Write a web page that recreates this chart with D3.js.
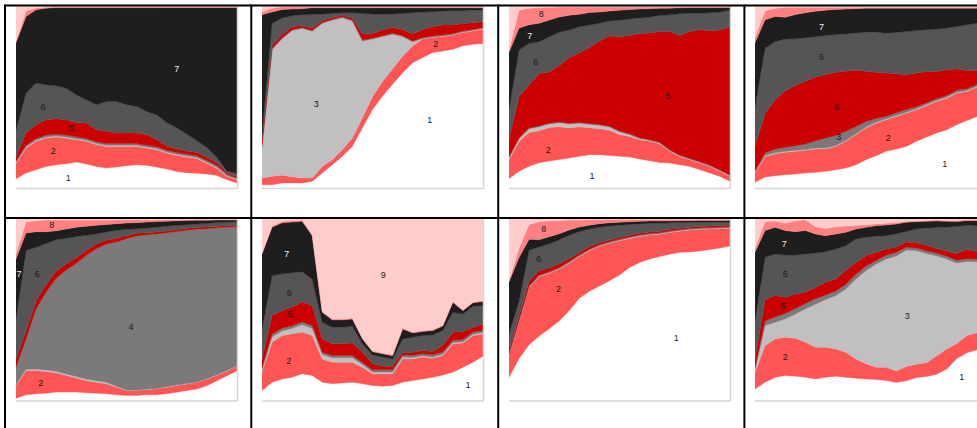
<!DOCTYPE html>
<html><head><meta charset="utf-8">
<script src="https://cdn.jsdelivr.net/npm/d3@7"></script>
<style>html,body{margin:0;padding:0;background:#fff;overflow:hidden}svg{display:block}</style>
</head><body>
<script>
// ---- data ----
const layerKeys = ["1","2","3","4","5","6","7","8","9"];
const layerColors = ["#ffffff","#ff5555","#c0c0c0","#7a7a7a","#cc0000","#555555","#1e1e1e","#ff8080","#ffcccc"];
const xSteps = d3.range(23); // sample index along the x axis

// each row = one layer (1..9) (share, %)
const panel1 = [
 [5.1,8.3,10.1,11.9,12.8,13.4,14.3,13.2,11.9,11.0,11.6,12.3,12.8,12.5,11.6,10.5,9.2,8.6,8.3,7.9,7.0,4.6,2.8],
 [8.7,13.7,15.6,15.6,15.3,14.1,12.3,12.5,12.0,11.9,11.3,10.6,10.1,9.5,9.5,8.8,9.1,8.8,8.2,5.9,4.0,1.8,1.8],
 [0.5,0.6,0.6,0.6,0.6,0.6,0.6,0.6,0.6,0.6,0.6,0.6,0.6,0.6,0.6,0.6,0.6,0.6,0.6,0.6,0.6,0.5,0.4],
 [0.8,1.0,1.0,1.0,1.0,1.0,1.0,1.0,1.0,1.0,1.0,1.0,1.0,1.0,1.0,1.0,1.0,1.0,1.0,1.0,1.0,0.8,0.6],
 [2.0,6.7,7.6,8.5,8.5,8.5,7.9,8.5,6.6,6.7,5.8,5.8,5.8,5.8,3.9,2.4,2.0,1.8,1.8,1.8,1.6,0.8,0.8],
 [15.2,22.0,22.9,19.3,18.1,17.4,15.3,12.8,13.8,16.5,17.4,15.6,14.7,12.8,13.8,12.9,11.9,9.5,6.5,5.5,2.8,1.0,1.8],
 [48.6,42.2,40.4,42.2,43.1,44.4,48.0,50.8,53.5,51.7,51.7,53.5,54.4,57.2,59.0,63.6,67.3,71.0,74.6,78.3,83.8,91.1,92.1],
 [1.0,3.0,1.0,0.5,0.3,0.3,0.3,0.3,0.3,0.3,0.3,0.3,0.3,0.3,0.3,0.3,0.3,0.3,0.3,0.3,0.3,0.3,0.3],
 [19.2,2.5,0.8,0.4,0.3,0.3,0.3,0.3,0.3,0.3,0.3,0.3,0.3,0.3,0.3,0.3,0.3,0.3,0.3,0.3,0.3,0.3,0.3]
];
const panel2 = [
 [1.8,1.8,2.8,2.8,2.8,3.7,8.3,12.8,17.4,22.9,33.0,43.1,50.5,56.9,63.3,68.8,71.6,74.3,75.2,76.1,78.0,78.9,79.3],
 [3.7,4.6,4.2,3.3,2.7,1.8,3.6,2.8,3.7,4.5,5.5,7.0,8.0,8.5,9.0,9.2,10.1,8.3,7.9,7.8,7.3,7.3,7.9],
 [17.4,69.7,74.7,80.1,82.0,80.2,78.6,76.7,72.5,64.3,42.2,31.6,24.6,19.0,10.8,2.2,0.3,0.3,0.3,0.3,0.3,0.3,0.3],
 [0.5,0.5,0.5,0.5,0.5,0.5,0.5,0.5,0.5,0.5,0.5,0.5,0.5,0.5,0.5,0.5,0.5,0.5,0.5,0.5,0.5,0.5,0.5],
 [3.6,1.8,1.7,1.8,1.0,1.4,1.0,1.0,1.0,1.0,3.3,2.6,3.1,3.2,3.4,3.8,4.5,5.1,5.5,4.7,4.2,3.7,3.2],
 [2.8,11.9,9.2,5.9,6.0,7.3,3.7,2.2,1.3,3.1,11.3,10.7,8.8,7.4,8.8,11.7,9.6,8.2,7.7,7.9,7.0,7.0,6.5],
 [66.0,6.4,4.6,3.6,3.3,3.7,3.4,3.1,2.7,2.7,3.1,3.4,3.4,3.4,3.1,2.7,2.3,2.2,1.8,1.6,1.6,1.2,1.2],
 [1.5,2.0,1.5,1.2,1.0,0.5,0.5,0.5,0.5,0.5,0.5,0.5,0.5,0.5,0.5,0.5,0.5,0.5,0.5,0.5,0.5,0.5,0.5],
 [3.0,1.0,0.2,0.2,0.2,0.2,0.2,0.2,0.2,0.2,0.2,0.2,0.2,0.2,0.2,0.2,0.2,0.2,0.2,0.2,0.2,0.2,0.2]
];
const panel3 = [
 [5.1,9.2,11.9,13.8,14.7,15.6,16.5,17.4,18.3,18.3,17.8,17.4,17.1,16.0,15.0,14.1,13.8,12.8,11.9,10.1,8.3,6.4,3.7],
 [10.5,16.5,18.4,17.4,18.3,18.0,16.5,16.2,14.7,14.2,13.9,12.0,11.3,10.6,10.7,10.3,6.4,4.6,3.7,3.7,3.6,2.8,2.7],
 [1.0,1.5,2.0,2.2,2.0,2.2,2.2,2.0,2.0,2.0,1.8,1.5,1.0,0.6,0.5,0.4,0.4,0.3,0.3,0.3,0.3,0.3,0.3],
 [0.4,0.4,0.4,0.4,0.4,0.4,0.4,0.4,0.4,0.4,0.4,0.4,0.4,0.4,0.4,0.4,0.4,0.4,0.4,0.4,0.4,0.4,0.4],
 [9.6,22.9,23.3,28.6,27.9,30.8,36.0,38.3,41.7,45.8,49.6,51.8,54.1,57.4,58.7,61.0,65.2,65.8,69.9,72.7,74.2,77.3,81.9],
 [16.5,25.6,22.9,17.4,19.3,18.3,15.2,14.3,12.3,9.8,8.2,9.2,9.1,8.6,8.8,8.7,9.2,12.1,10.1,9.1,9.9,9.9,9.2],
 [31.2,12.0,10.1,10.1,9.1,8.3,8.1,6.8,6.9,6.2,5.5,5.5,5.2,4.9,4.6,4.0,3.7,3.3,3.1,3.1,2.9,2.5,1.4],
 [1.0,10.0,9.0,8.5,7.0,5.5,4.5,4.0,3.0,2.7,2.2,1.7,1.4,1.1,0.9,0.7,0.6,0.5,0.4,0.4,0.4,0.4,0.4],
 [24.0,1.9,1.0,0.6,0.4,0.3,0.3,0.3,0.3,0.3,0.3,0.3,0.3,0.3,0.3,0.3,0.3,0.2,0.2,0.2,0.2,0.2,0.2]
];
const panel4 = [
 [3.1,6.1,6.8,7.3,7.7,8.3,8.6,9.2,10.1,11.0,12.8,15.6,17.8,20.2,21.5,22.9,25.7,28.1,30.3,32.1,34.9,37.2,39.4],
 [5.2,11.3,12.1,12.3,12.5,12.4,12.9,12.3,12.8,14.7,16.6,17.4,18.0,17.4,17.9,18.4,17.4,17.4,17.4,17.4,17.4,16.0,16.2],
 [0.5,0.5,0.5,0.5,0.5,0.5,0.5,0.5,0.5,0.5,0.5,0.5,0.5,0.5,0.5,0.5,0.5,0.5,0.5,0.5,0.5,0.5,0.5],
 [0.5,1.5,2.0,2.2,2.5,3.0,4.0,5.5,5.5,5.0,4.0,3.0,2.0,1.5,1.5,1.5,1.2,1.0,1.0,1.0,1.0,1.0,1.0],
 [13.6,21.9,27.2,30.9,33.1,34.5,35.1,34.9,34.8,33.0,30.9,27.7,25.4,23.7,21.5,19.1,18.5,17.2,15.0,14.1,11.7,10.1,7.7],
 [21.6,35.8,32.1,28.5,25.7,23.9,22.0,21.5,20.7,20.6,20.5,21.5,22.0,22.0,22.8,23.8,23.5,23.0,23.3,23.0,23.5,25.1,26.0],
 [35.3,15.6,13.8,11.9,13.4,13.7,14.1,13.9,13.8,13.7,13.4,13.2,13.2,13.8,13.4,12.9,12.3,11.9,11.6,11.0,10.1,9.2,8.3],
 [3.0,5.0,4.5,5.5,4.0,3.0,2.2,1.6,1.2,1.0,0.8,0.5,0.5,0.5,0.5,0.5,0.5,0.5,0.5,0.5,0.5,0.5,0.5],
 [17.0,2.3,1.0,0.4,0.4,0.4,0.4,0.4,0.4,0.4,0.4,0.4,0.4,0.4,0.4,0.4,0.4,0.4,0.4,0.4,0.4,0.4,0.4]
];
const panel5 = [
 [1.3,3.1,3.7,4.0,4.6,4.6,4.6,4.2,4.0,3.7,3.1,2.8,2.8,3.1,3.1,3.7,4.6,5.5,6.4,8.3,11.0,13.8,16.5],
 [7.3,13.4,12.8,11.9,10.6,9.2,7.7,6.8,6.1,5.5,4.2,2.7,2.7,3.0,3.3,3.6,3.7,3.7,3.7,3.6,3.1,2.7,2.8],
 [0.3,0.7,0.8,0.8,0.8,0.8,0.8,0.8,0.8,0.8,0.5,0.3,0.2,0.2,0.2,0.2,0.2,0.2,0.2,0.2,0.2,0.2,0.2],
 [9.4,16.7,33.2,42.9,51.0,57.0,62.1,68.0,72.6,76.2,79.4,83.2,84.8,84.9,85.1,84.8,84.5,85.1,85.1,83.8,82.0,80.0,77.2],
 [4.6,4.5,4.5,4.0,3.8,3.5,3.0,2.8,2.5,2.2,2.0,1.6,1.4,1.2,1.1,1.0,1.0,1.0,0.9,0.9,0.9,0.8,0.8],
 [22.1,44.2,29.4,22.6,17.3,13.9,11.7,8.2,5.7,4.3,4.4,3.5,2.6,2.5,2.6,2.7,2.3,2.0,2.0,2.0,2.0,2.0,2.0],
 [33.0,9.7,8.6,6.5,4.9,5.1,5.1,5.0,4.6,4.2,3.6,3.5,3.3,3.3,3.1,2.7,2.6,2.4,2.1,1.8,1.4,1.1,0.9],
 [3.0,6.0,6.0,6.5,6.0,5.0,4.0,3.5,3.0,2.5,2.2,1.8,1.6,1.3,1.0,0.8,0.6,0.5,0.4,0.4,0.3,0.3,0.3],
 [19.0,1.7,1.0,0.5,0.5,0.5,0.5,0.5,0.5,0.5,0.4,0.4,0.4,0.4,0.4,0.4,0.4,0.3,0.3,0.3,0.3,0.3,0.3]
];
const panel6 = [
 [5.5,10.1,11.9,12.8,14.7,13.8,10.1,9.2,9.7,10.1,9.2,8.3,7.9,8.3,10.1,11.0,11.9,12.8,14.1,15.6,18.3,21.1,24.4],
 [10.1,22.0,23.9,23.9,22.9,22.0,12.8,11.9,11.4,11.0,9.1,6.4,6.8,6.4,12.8,11.9,12.0,10.5,10.7,15.6,13.4,14.7,12.3],
 [1.0,3.0,2.5,3.0,4.0,4.0,2.5,2.5,2.5,2.5,1.5,1.0,1.0,1.0,1.0,0.8,0.7,0.7,0.7,0.7,0.7,0.7,0.7],
 [1.5,1.5,1.5,1.5,1.5,1.5,1.2,1.2,1.2,1.2,1.2,1.2,1.2,1.2,1.2,1.2,1.2,1.2,1.2,1.2,1.2,1.2,1.2],
 [4.8,10.2,9.7,10.2,11.0,11.0,7.3,6.4,6.4,6.9,5.6,3.3,2.0,2.0,1.5,1.7,1.7,1.8,3.6,4.5,4.4,2.7,3.6],
 [16.5,22.0,20.2,18.9,16.5,14.6,9.2,9.2,9.2,9.2,4.6,4.9,5.0,4.0,7.3,8.3,8.3,9.1,8.2,11.0,9.7,11.5,10.1],
 [41.3,26.6,28.1,27.9,27.6,23.9,5.5,4.0,4.0,4.0,2.7,1.8,1.8,1.8,5.5,2.3,2.2,2.4,2.5,5.5,1.8,1.9,2.2],
 [0.5,0.8,0.8,0.8,0.8,0.8,0.5,0.5,0.5,0.5,0.5,0.5,0.5,0.5,0.5,0.5,0.5,0.5,0.5,0.5,0.5,0.5,0.5],
 [18.8,3.8,1.3,0.9,0.5,8.5,50.9,55.1,55.1,54.6,65.6,72.6,73.8,74.8,60.1,62.3,61.5,61.0,58.5,45.4,50.0,45.7,45.0]
];
const panel7 = [
 [12.8,22.9,30.3,35.8,40.4,45.0,50.5,56.9,60.6,63.3,66.1,69.2,73.4,76.1,78.0,79.4,80.7,81.7,82.0,82.6,83.5,84.4,85.7],
 [12.0,20.2,31.2,33.0,31.2,29.3,26.6,23.3,22.5,22.0,20.7,18.9,16.0,14.4,13.2,12.3,12.0,11.7,12.1,11.9,11.4,10.8,9.9],
 [0.3,0.3,0.3,0.3,0.3,0.3,0.3,0.3,0.3,0.3,0.3,0.3,0.3,0.3,0.3,0.3,0.3,0.3,0.3,0.3,0.3,0.3,0.3],
 [0.5,0.5,0.5,0.5,0.5,0.5,0.5,0.5,0.5,0.5,0.5,0.5,0.5,0.5,0.5,0.5,0.5,0.5,0.5,0.5,0.5,0.5,0.5],
 [1.5,2.5,2.5,2.5,2.2,2.0,1.8,1.5,1.3,1.2,1.0,1.0,1.0,0.9,0.9,0.9,0.9,0.8,0.8,0.8,0.8,0.8,0.8],
 [9.6,7.7,16.9,13.2,13.5,13.7,13.0,11.6,9.8,8.5,7.7,6.8,5.9,5.2,4.7,4.4,3.6,3.2,2.6,2.4,2.2,2.1,1.9],
 [28.4,23.9,6.0,4.0,4.0,3.5,3.0,2.5,2.2,2.0,1.8,1.6,1.5,1.4,1.3,1.2,1.1,1.0,1.0,0.9,0.9,0.8,0.8],
 [0.5,5.0,8.0,10.0,9.0,7.5,5.5,4.0,3.0,2.2,1.8,1.5,1.2,1.0,0.8,0.8,0.7,0.6,0.6,0.5,0.5,0.5,0.5],
 [34.0,16.0,3.0,1.5,1.0,0.8,0.6,0.5,0.4,0.4,0.3,0.3,0.3,0.3,0.3,0.3,0.3,0.3,0.3,0.3,0.3,0.3,0.3]
];
const panel8 = [
 [6.4,10.1,12.8,13.8,13.4,12.8,11.9,12.8,13.4,12.8,12.3,11.9,11.6,11.0,10.1,11.0,12.8,13.4,14.7,17.4,22.9,25.7,27.5],
 [9.2,20.2,21.1,21.1,20.9,19.3,17.5,16.6,15.0,13.8,10.6,8.3,6.7,7.3,6.4,7.9,7.4,7.7,10.1,11.0,8.3,9.2,9.2],
 [1.8,11.0,9.2,10.1,13.4,18.4,23.8,26.2,29.4,34.9,44.1,51.4,56.9,59.7,64.2,65.0,63.3,60.9,55.9,49.6,44.0,39.8,38.5],
 [0.5,2.5,3.0,3.0,3.0,3.0,3.0,2.5,2.5,2.5,2.5,2.5,2.0,2.0,2.0,1.5,1.5,1.5,1.5,1.5,1.5,1.5,1.5],
 [5.0,11.8,11.7,8.9,8.0,6.1,6.2,7.0,6.7,7.6,6.6,5.7,4.5,3.5,3.0,3.0,3.0,3.0,2.5,3.0,3.5,5.0,4.0],
 [21.1,23.3,22.9,23.3,21.5,21.1,18.9,16.9,16.5,13.7,12.9,10.1,8.8,7.3,7.3,5.8,7.7,9.6,11.9,13.0,15.0,13.0,14.0],
 [37.7,14.7,14.7,13.4,12.8,12.9,10.4,8.8,8.2,7.4,5.5,5.5,5.8,5.9,5.5,5.2,4.0,3.8,3.5,3.3,2.7,2.4,2.8],
 [2.0,5.0,3.5,4.0,6.0,6.0,4.0,4.0,4.0,3.5,2.0,1.5,1.0,1.0,0.8,0.5,0.5,0.5,0.5,0.5,0.5,0.5,0.5],
 [16.3,1.4,1.1,2.4,1.0,0.4,4.3,5.2,4.3,3.8,3.5,3.1,2.7,2.3,2.0,1.3,1.0,0.8,0.6,0.8,0.8,0.4,0.4]
];

// labels: [text, x (sample index), y (% of height)]
const labels1 = [["7",16.0,65.6],["6",2.7,44.9],["5",5.5,33.3],["2",3.7,20.4],["1",5.2,5.7]];
const labels2 = [["3",5.4,46.2],["1",16.7,37.6],["2",17.3,79.6]];
const labels3 = [["8",3.2,96.1],["7",2.06,84.0],["6",2.66,69.2],["5",15.8,50.8],["2",3.9,21.0],["1",8.26,6.8]];
const labels4 = [["7",6.6,88.8],["6",6.6,72.0],["5",8.1,44.4],["3",8.3,28.3],["2",13.2,27.5],["1",18.8,13.1]];
const labels5 = [["8",3.55,96.5],["7",0.3,69.8],["6",2.12,69.8],["4",11.44,40.7],["2",2.46,9.4]];
const labels6 = [["7",2.46,80.5],["6",2.72,59.1],["5",2.79,47.9],["2",2.66,21.9],["9",12.07,68.9],["1",20.5,8.7]];
const labels7 = [["8",3.45,94.6],["6",2.95,78.1],["2",4.94,61.5],["1",16.65,34.3]];
const labels8 = [["7",2.9,86.2],["6",2.99,69.6],["5",2.79,51.8],["3",15.1,46.6],["2",2.99,23.8],["1",20.5,12.7]];

// ---- layout ----
const W = 977, H = 428;
const colX = [16, 262, 509, 755];
const rowY = [6.5, 219];
const plotW = 221, plotH = 181.5;
const gridV = [5, 251.3, 498.2, 744.4];
const gridH = [5.5, 218];

const panels = [
  {v: panel1, l: labels1}, {v: panel2, l: labels2}, {v: panel3, l: labels3}, {v: panel4, l: labels4},
  {v: panel5, l: labels5}, {v: panel6, l: labels6}, {v: panel7, l: labels7}, {v: panel8, l: labels8}
];

const svg = d3.select("body").append("svg").attr("width", W).attr("height", H);
svg.append("rect").attr("width", W).attr("height", H).attr("fill", "#fff");

const color = d3.scaleOrdinal(layerKeys, layerColors);
const stack = d3.stack().keys(layerKeys).offset(d3.stackOffsetExpand);

panels.forEach((p, pi) => {
  const col = pi % 4, row = Math.floor(pi / 4);
  const w = col === 3 ? W - colX[3] : plotW;
  const x = d3.scaleLinear().domain([0, xSteps.length - 1]).range([0, w]);
  const y = d3.scaleLinear().domain([0, 1]).range([plotH, 0]);
  const rows = xSteps.map(i => {
    const o = {};
    layerKeys.forEach((k, li) => { o[k] = p.v[li][i]; });
    return o;
  });
  const series = stack(rows);
  const g = svg.append("g").attr("transform", `translate(${colX[col]},${rowY[row]})`);
  const cid = "clip" + pi;
  g.append("clipPath").attr("id", cid).append("rect").attr("width", w).attr("height", plotH);
  const area = d3.area()
    .x((d, i) => x(i))
    .y0(d => y(d[0]))
    .y1(d => y(d[1]))
    .curve(d3.curveLinear);
  const ga = g.append("g").attr("clip-path", `url(#${cid})`);
  ga.selectAll("path").data(series).join("path")
    .attr("d", area)
    .attr("fill", d => color(d.key))
    .attr("stroke", d => color(d.key))
    .attr("stroke-width", 0.4);
  // light border right & bottom
  g.append("line").attr("x1", 0).attr("x2", w).attr("y1", plotH + 0.5).attr("y2", plotH + 0.5)
    .attr("stroke", "#d6d6d6").attr("stroke-width", 1.5);
  if (col !== 3) {
    g.append("line").attr("x1", w + 0.5).attr("x2", w + 0.5).attr("y1", 0).attr("y2", plotH + 1)
      .attr("stroke", "#d6d6d6").attr("stroke-width", 1.5);
  }
  g.selectAll("text.lbl").data(p.l).join("text")
    .attr("class", "lbl")
    .attr("x", d => x(d[1]))
    .attr("y", d => y(d[2] / 100))
    .attr("text-anchor", "middle")
    .attr("dominant-baseline", "central")
    .attr("font-family", "Liberation Sans, Arial, sans-serif")
    .attr("font-size", 9)
    .attr("fill", d => d[0] === "7" ? "#f2f2f2" : "#1a1a1a")
    .text(d => d[0]);
});

// table grid lines
gridH.forEach(yy => svg.append("line").attr("x1", 4).attr("x2", W).attr("y1", yy).attr("y2", yy)
  .attr("stroke", "#000").attr("stroke-width", 2));
gridV.forEach(xx => svg.append("line").attr("x1", xx).attr("x2", xx).attr("y1", 4.5).attr("y2", H)
  .attr("stroke", "#000").attr("stroke-width", 2));
</script>
</body></html>
